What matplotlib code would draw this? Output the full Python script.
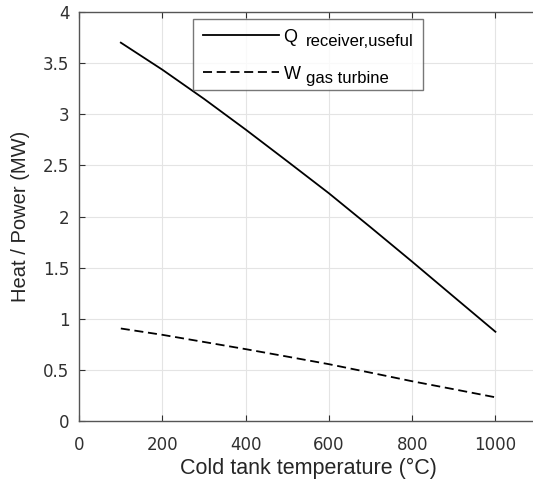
import matplotlib
matplotlib.use("Agg")
import matplotlib.pyplot as plt

temperature = [100, 200, 300, 400, 500, 600, 700, 800, 900, 1000]
q_receiver = [3.70, 3.435, 3.15, 2.85, 2.54, 2.227, 1.895, 1.558, 1.215, 0.873]
w_turbine = [0.905, 0.843, 0.773, 0.703, 0.630, 0.556, 0.473, 0.389, 0.311, 0.232]
x_ticks = [0, 200, 400, 600, 800, 1000]
y_ticks = [0, 0.5, 1, 1.5, 2, 2.5, 3, 3.5, 4]
y_tick_labels = ['0', '0.5', '1', '1.5', '2', '2.5', '3', '3.5', '4']
legend_main = ['Q', 'W']
legend_sub = ['receiver,useful', 'gas turbine']

plt.rcParams['font.family'] = ['Liberation Sans', 'DejaVu Sans']

fig = plt.figure(figsize=(5.33, 4.79), dpi=100)
ax = fig.add_axes([0.1486, 0.121, 0.859, 0.854])

ax.plot(temperature, q_receiver, color='black', lw=1.3, label=legend_sub[0])
ax.plot(temperature, w_turbine, color='black', lw=1.3, linestyle=(0, (5, 2.6)),
        label=legend_sub[1])

ax.set_xlim(0, 1100)
ax.set_ylim(0, 4)
ax.set_xticks(x_ticks)
ax.set_yticks(y_ticks)
ax.set_yticklabels(y_tick_labels)
ax.grid(True, color='#e4e4e4', lw=0.8)
ax.set_axisbelow(True)
ax.tick_params(direction='in', top=True, right=False, length=4, width=0.8,
               colors='#303030', labelsize=12)
ax.tick_params(axis='x', pad=11)
ax.tick_params(axis='y', pad=7)
for lab in ax.get_xticklabels() + ax.get_yticklabels():
    lab.set_fontfamily('DejaVu Sans')
for s in ax.spines.values():
    s.set_color('#555555')
    s.set_linewidth(1.0)

ax.set_xlabel('Cold tank temperature (°C)', fontsize=15.5, color='#262626')
ax.set_ylabel('Heat / Power (MW)', fontsize=14.5, color='#262626')
ax.xaxis.set_label_coords(0.5, -0.091)
ax.yaxis.set_label_coords(-0.108, 0.5)

fs = 12
leg = ax.legend(loc='upper left', bbox_to_anchor=(0.2487, 0.983), fontsize=fs,
                handlelength=4.6, frameon=True, fancybox=False, edgecolor='#555555',
                borderpad=0.58, labelspacing=1.32, handletextpad=1.57, borderaxespad=0)
leg.get_frame().set_linewidth(1.0)
for t in leg.get_texts():
    t.set_y(-5.5)

fig.canvas.draw()
renderer = fig.canvas.get_renderer()
W, H = fig.bbox.width, fig.bbox.height
for t, main in zip(leg.get_texts(), legend_main):
    bb = t.get_window_extent(renderer)
    fig.text((bb.x0 - 22) / W, (bb.y0 + 3.5) / H, main, ha='left', va='bottom',
             fontsize=13, color='black')

fig.savefig('out.png', dpi=100)
